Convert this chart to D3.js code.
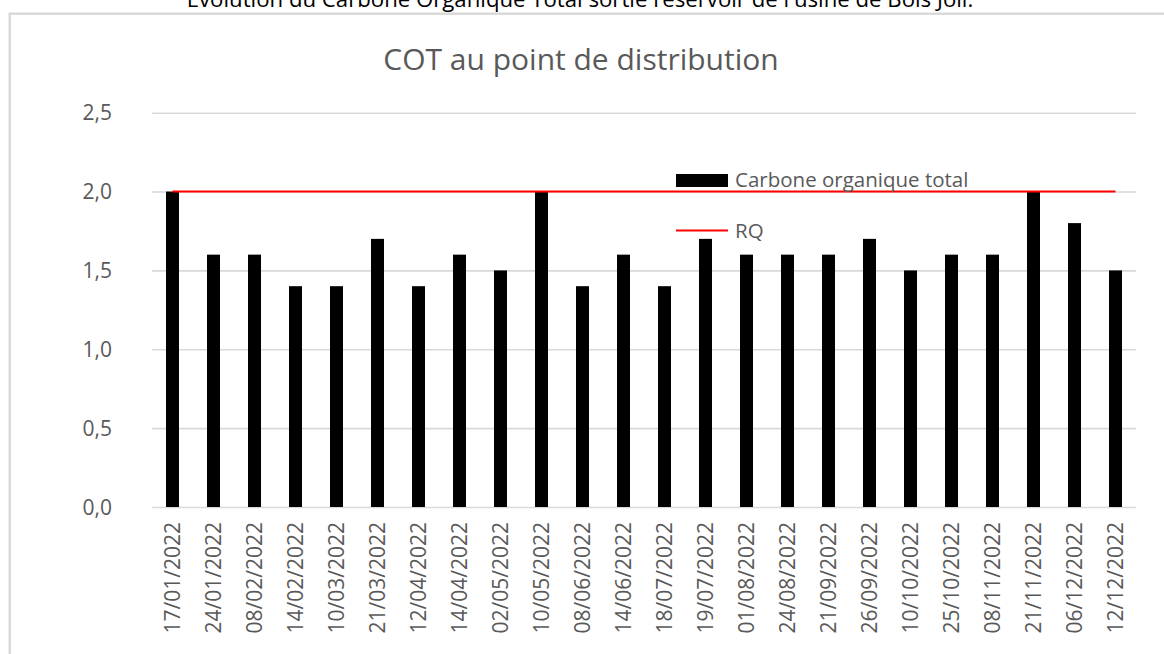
<!DOCTYPE html>
<html>
<head>
<meta charset="utf-8">
<script src="https://cdn.jsdelivr.net/npm/d3@7"></script>
<style>
  html, body { margin: 0; padding: 0; background: #ffffff; }
  svg { display: block; }
  text { font-family: "Open Sans", "Noto Sans", sans-serif; }
</style>
</head>
<body>
<svg id="chart" width="1164" height="654"></svg>
<script>
// Sampling dates (x categories)
const dates = [
  "17/01/2022", "24/01/2022", "08/02/2022", "14/02/2022", "10/03/2022", "21/03/2022",
  "12/04/2022", "14/04/2022", "02/05/2022", "10/05/2022", "08/06/2022", "14/06/2022",
  "18/07/2022", "19/07/2022", "01/08/2022", "24/08/2022", "21/09/2022", "26/09/2022",
  "10/10/2022", "25/10/2022", "08/11/2022", "21/11/2022", "06/12/2022", "12/12/2022"
];
// Carbone organique total (mg/L)
const cotValues = [
  2.0, 1.6, 1.6, 1.4, 1.4, 1.7,
  1.4, 1.6, 1.5, 2.0, 1.4, 1.6,
  1.4, 1.7, 1.6, 1.6, 1.6, 1.7,
  1.5, 1.6, 1.6, 2.0, 1.8, 1.5
];
// Référence qualité
const rqValue = 2.0;
const yTicks = [0, 0.5, 1.0, 1.5, 2.0, 2.5];
const seriesNames = ["Carbone organique total", "RQ"];
const pageCaption = "Évolution du Carbone Organique Total sortie réservoir de l'usine de Bois Joli.";
const chartTitle = "COT au point de distribution";

const svg = d3.select("#chart");
const grey = "#595959";
const gridColor = "#d9d9d9";

// Plot area
const plotLeft = 152, plotRight = 1136, plotTop = 112.7, plotBottom = 507;

const x = d3.scaleBand()
  .domain(dates)
  .range([plotLeft, plotRight])
  .paddingInner(0.683)
  .paddingOuter(0.3415);

const y = d3.scaleLinear()
  .domain([0, 2.5])
  .range([plotBottom, plotTop]);

const fmt = v => d3.format(".1f")(v).replace(".", ",");

// Caption above the chart frame
svg.append("text")
  .attr("x", 580)
  .attr("y", 6.5)
  .attr("text-anchor", "middle")
  .attr("font-size", 22.2)
  .attr("fill", "#000000")
  .text(pageCaption);

// Chart frame
svg.append("rect")
  .attr("x", 9.7)
  .attr("y", 13.7)
  .attr("width", 1200)
  .attr("height", 700)
  .attr("fill", "#ffffff")
  .attr("stroke", gridColor)
  .attr("stroke-width", 2.4);

// Title
svg.append("text")
  .attr("x", 581)
  .attr("y", 70)
  .attr("text-anchor", "middle")
  .attr("font-size", 30)
  .attr("fill", grey)
  .text(chartTitle);

// Gridlines + y axis labels
const yAxis = d3.axisLeft(y)
  .tickValues(yTicks)
  .tickFormat(fmt)
  .tickSize(-(plotRight - plotLeft))
  .tickPadding(40);

const gy = svg.append("g")
  .attr("transform", `translate(${plotLeft},0)`)
  .call(yAxis);
gy.select(".domain").remove();
gy.selectAll(".tick line")
  .attr("stroke", gridColor)
  .attr("stroke-width", 1.6);
gy.selectAll(".tick text")
  .attr("font-size", 21)
  .attr("font-family", "'Open Sans', sans-serif")
  .attr("fill", grey)
  .attr("dy", "0.34em");

// Bars
svg.append("g")
  .selectAll("rect")
  .data(cotValues)
  .join("rect")
  .attr("x", (d, i) => x(dates[i]))
  .attr("y", d => y(d))
  .attr("width", x.bandwidth())
  .attr("height", d => y(0) - y(d))
  .attr("fill", "#000000");

// RQ reference line across all categories
const rqLine = d3.line()
  .x(d => x(d) + x.bandwidth() / 2)
  .y(() => y(rqValue));
svg.append("path")
  .datum(dates)
  .attr("d", rqLine)
  .attr("fill", "none")
  .attr("stroke", "#ff0000")
  .attr("stroke-width", 2);

// X axis labels (rotated)
const xAxis = d3.axisBottom(x).tickSize(0).tickPadding(0);
const gx = svg.append("g")
  .attr("transform", `translate(0,${plotBottom})`)
  .call(xAxis);
gx.select(".domain").remove();
gx.selectAll(".tick text")
  .attr("font-size", 21)
  .attr("font-family", "'Open Sans', sans-serif")
  .attr("fill", grey)
  .attr("text-anchor", "end")
  .attr("transform", "translate(0,15) rotate(-90)")
  .attr("x", 0)
  .attr("y", 0)
  .attr("dy", "0.36em");

// Legend
const legend = svg.append("g");
legend.append("rect")
  .attr("x", 676).attr("y", 174)
  .attr("width", 52).attr("height", 13)
  .attr("fill", "#000000");
legend.append("text")
  .attr("x", 735).attr("y", 187)
  .attr("font-size", 20.5)
  .attr("fill", grey)
  .text(seriesNames[0]);
legend.append("line")
  .attr("x1", 676).attr("x2", 728)
  .attr("y1", 230.5).attr("y2", 230.5)
  .attr("stroke", "#ff0000")
  .attr("stroke-width", 2);
legend.append("text")
  .attr("x", 735).attr("y", 238)
  .attr("font-size", 20.5)
  .attr("fill", grey)
  .text(seriesNames[1]);
</script>
</body>
</html>
